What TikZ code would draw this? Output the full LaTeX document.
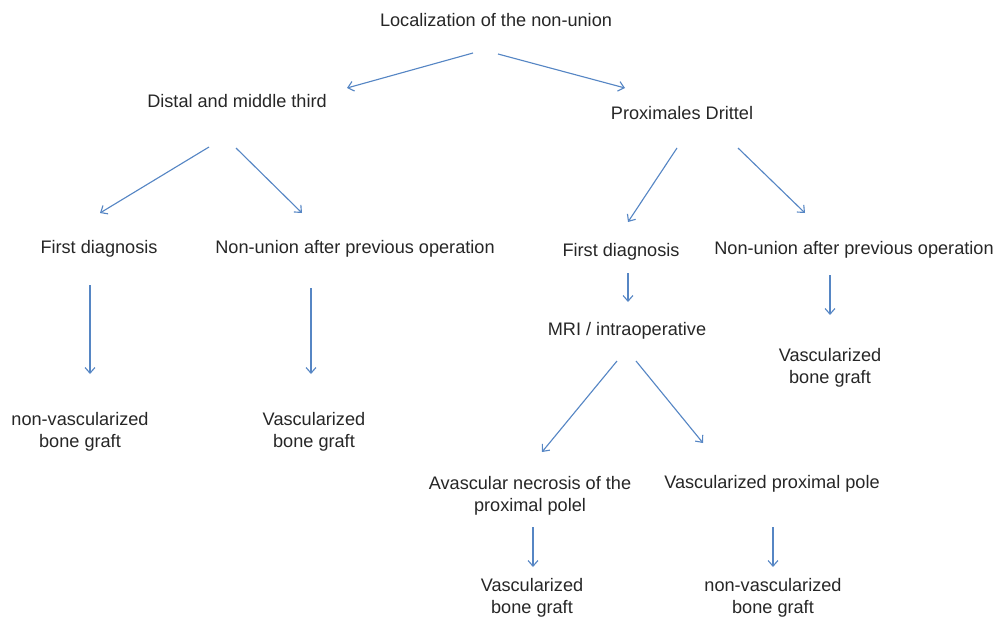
\documentclass[tikz,border=0pt]{standalone}
\usepackage{fontspec}
\setmainfont{Liberation Sans}
\usepackage{tikz}
\usetikzlibrary{arrows.meta,calc,positioning}
\definecolor{arrblue}{RGB}{86,134,196}
\definecolor{txtgray}{RGB}{38,38,38}

\begin{document}
\begin{tikzpicture}[
  x=0.025cm, y=-0.025cm,
  lbl/.style={align=center, inner sep=0pt, text=txtgray, font=\fontsize{12.9}{15.6}\selectfont},
  arr/.style={-{Straight Barb[length=4pt,width=7pt]}, draw=arrblue, line width=0.8pt}
]
\useasboundingbox (0,0) rectangle (995,619);
\node[lbl] (root) at (496,20) {Localization of the non-union};
\node[lbl] (dist) at (237,101) {Distal and middle third};
\node[lbl] (prox) at (682,113) {Proximales Drittel};
\node[lbl] (fdA) at (99,249) {First diagnosis};
\node[lbl] (nuA) at (355,249) {Non-union after previous operation};
\node[lbl] (fdB) at (621,252) {First diagnosis};
\node[lbl] (nuB) at (854,250) {Non-union after previous operation};
\node[lbl] (mri) at (627,331) {MRI / intraoperative};
\node[lbl] (vbgC) at (830,368) {Vascularized\\bone graft};
\node[lbl] (nvbgA) at (80,432) {non-vascularized\\bone graft};
\node[lbl] (vbgA) at (314,432) {Vascularized\\bone graft};
\node[lbl] (avn) at (530,496) {Avascular necrosis of the\\proximal polel};
\node[lbl] (vpp) at (772,484) {Vascularized proximal pole};
\node[lbl] (vbgB) at (532,598) {Vascularized\\bone graft};
\node[lbl] (nvbgB) at (773,598) {non-vascularized\\bone graft};
\draw[arr] ($(root)+(-23,33)$) -- ($(dist)+(110,-13)$);
\draw[arr] ($(root)+(2,34)$) -- ($(prox)+(-57,-25)$);
\draw[arr] ($(dist)+(-28,46)$) -- ($(fdA)+(1,-36)$);
\draw[arr] ($(dist)+(-1,47)$) -- ($(nuA)+(-53,-36)$);
\draw[arr] ($(prox)+(-5,35)$) -- ($(fdB)+(7,-30)$);
\draw[arr] ($(prox)+(56,35)$) -- ($(nuB)+(-49,-37)$);
\draw[arr] ($(fdA)+(-9,36)$) -- ($(nvbgA)+(10,-58)$);
\draw[arr] ($(nuA)+(-44,39)$) -- ($(vbgA)+(-3,-58)$);
\draw[arr] ($(fdB)+(7,21)$) -- ($(mri)+(1,-29)$);
\draw[arr] ($(nuB)+(-24,25)$) -- ($(vbgC)+(0,-53)$);
\draw[arr] ($(mri)+(-10,30)$) -- ($(avn)+(12,-44)$);
\draw[arr] ($(mri)+(9,30)$) -- ($(vpp)+(-69,-41)$);
\draw[arr] ($(avn)+(3,31)$) -- ($(vbgB)+(1,-31)$);
\draw[arr] ($(vpp)+(1,43)$) -- ($(nvbgB)+(0,-31)$);
\end{tikzpicture}
\end{document}
